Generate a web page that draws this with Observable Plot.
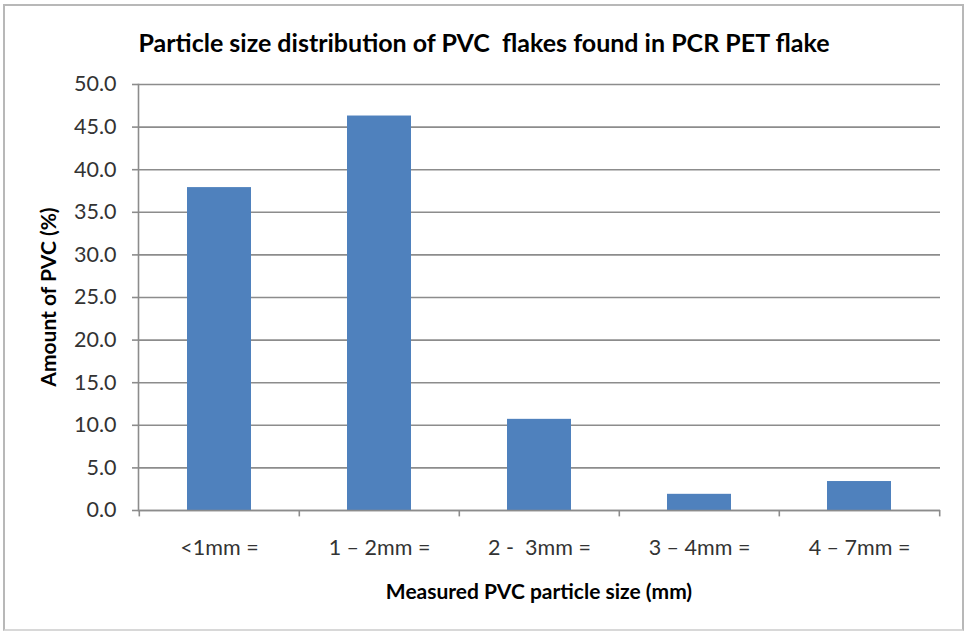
<!DOCTYPE html>
<html><head><meta charset="utf-8">
<script src="https://cdn.jsdelivr.net/npm/d3@7"></script>
<script src="https://cdn.jsdelivr.net/npm/@observablehq/plot@0.6"></script>
<style>
body{margin:0;background:#fff;}
#wrap{position:relative;width:965px;height:631px;overflow:hidden;font-family:Lato,"Open Sans",sans-serif;}
#frame{position:absolute;left:3px;top:4px;width:961px;height:627px;border:2px solid #b8b8b8;border-bottom-color:#d8d8d8;box-sizing:border-box;}
#title{position:absolute;left:0;width:968px;top:27px;text-align:center;font-weight:bold;font-size:25px;color:#000;white-space:pre;}
#xtitle{position:absolute;left:138px;width:802px;top:578px;text-align:center;font-weight:bold;font-size:21px;color:#000;}
#ytitle{position:absolute;left:47px;top:297px;transform:translate(-50%,-50%) rotate(-90deg);font-weight:bold;font-size:21px;color:#000;white-space:nowrap;}
#plot{position:absolute;left:0;top:0;}
</style></head>
<body>
<div id="wrap">
  <div id="plot"></div>
  <div id="frame"></div>
  <div id="title">Particle size distribution of PVC  flakes found in PCR PET flake</div>
  <div id="ytitle">Amount of PVC (%)</div>
  <div id="xtitle">Measured PVC particle size (mm)</div>
</div>
<script>
const categories = ["<1mm =", "1 – 2mm =", "2 -  3mm =", "3 – 4mm =", "4 – 7mm ="];
const values = [37.9, 46.3, 10.7, 1.9, 3.4];
const yTicks = [0, 5, 10, 15, 20, 25, 30, 35, 40, 45, 50];

const data = categories.map((c, i) => ({category: c, value: values[i]}));
const W = 965, H = 631, mL = 138, mR = 25;
const step = (W - mL - mR) / categories.length;
const boundaries = categories.map((c, i) => ({category: c, dx: -step / 2})).concat([{category: categories[categories.length - 1], dx: step / 2}]);

const chart = Plot.plot({
  width: W,
  height: H,
  marginLeft: mL,
  marginRight: mR,
  marginTop: 84,
  marginBottom: 121,
  style: {fontFamily: "Lato, 'Open Sans', sans-serif", fontSize: "21.5px", color: "#333", background: "transparent", overflow: "visible"},
  x: {domain: categories, paddingInner: 0.6, paddingOuter: 0.3, label: null},
  y: {domain: [0, 50], label: null},
  marks: [
    Plot.ruleY(yTicks, {stroke: "#8c8c8c", strokeWidth: 1.6}),
    Plot.barY(data, {x: "category", y: "value", fill: "#4f81bd"}),
    Plot.axisY({ticks: yTicks, tickFormat: d => d.toFixed(1), tickSize: 6, tickPadding: 16, stroke: "#8c8c8c", strokeWidth: 1.6, color: "#333"}),
    Plot.axisX({tickSize: 0, tickPadding: 29, color: "#333"}),
    Plot.ruleY([0], {stroke: "#8c8c8c", strokeWidth: 1.6}),
    Plot.frame({anchor: "left", stroke: "#8c8c8c", strokeWidth: 1.6}),
    ...boundaries.map(b => Plot.ruleX([b], {x: "category", y1: 0, y2: -0.75, dx: b.dx, stroke: "#8c8c8c", strokeWidth: 1.6}))
  ]
});
document.getElementById("plot").appendChild(chart);
</script>
</body></html>
